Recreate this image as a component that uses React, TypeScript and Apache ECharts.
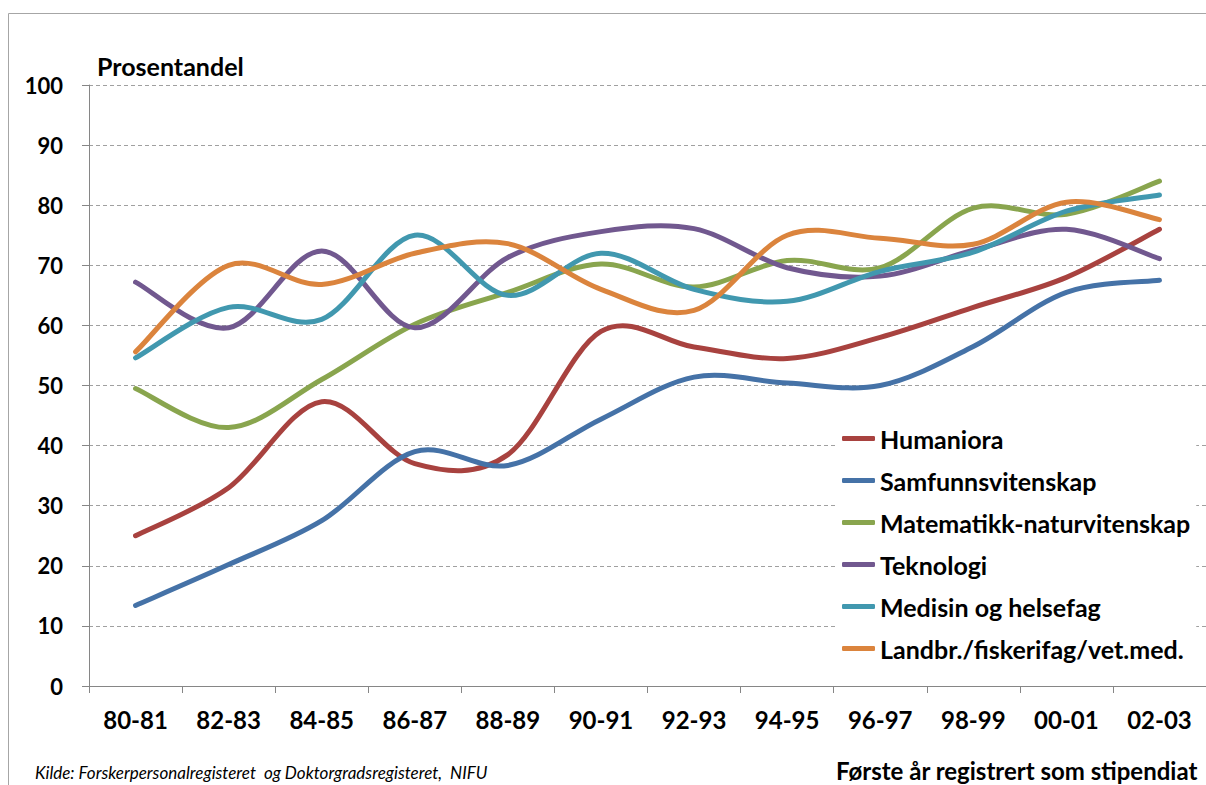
import React, { useEffect, useRef } from "react";
import * as echarts from "echarts";

const categories = ["80-81", "82-83", "84-85", "86-87", "88-89", "90-91", "92-93", "94-95", "96-97", "98-99", "00-01", "02-03"];
const seriesNames = [
  "Humaniora",
  "Samfunnsvitenskap",
  "Matematikk-naturvitenskap",
  "Teknologi",
  "Medisin og helsefag",
  "Landbr./fiskerifag/vet.med.",
];
const humaniora = [25, 33, 47.3, 37, 38.5, 59, 56.4, 54.5, 58, 63, 68, 76];
const samfunnsvitenskap = [13.4, 20.2, 27.5, 39, 36.7, 44.4, 51.4, 50.4, 50, 56.5, 65.5, 67.5];
const matematikk = [49.5, 43, 51, 60.2, 65.5, 70.2, 66.4, 70.8, 69.6, 79.5, 78.5, 84];
const teknologi = [67.2, 59.6, 72.4, 59.6, 71.3, 75.6, 76.1, 69.6, 68.2, 72.5, 76, 71.1];
const medisin = [54.6, 63, 61, 75, 65, 72, 66, 64, 69, 72.2, 79, 81.7];
const landbruk = [55.6, 70, 66.8, 72, 73.6, 66, 62.5, 75, 74.5, 73.5, 80.5, 77.6];
const colors = ["#A8423F", "#4572A7", "#89A54E", "#71588F", "#4198AF", "#DB843D"];
const yAxisTitle = "Prosentandel";
const xAxisTitle = "Første år registrert som stipendiat";
const sourceNote = "Kilde: Forskerpersonalregisteret  og Doktorgradsregisteret,  NIFU";

const FONT = "Lato, 'Open Sans', sans-serif";

// Smoothed curve through the points (uniform Catmull-Rom, as in spreadsheet "smoothed line")
function smoothPath(pts: number[][]): string {
  let d = `M${pts[0][0]},${pts[0][1]}`;
  for (let i = 0; i < pts.length - 1; i++) {
    const p0 = pts[i - 1] || pts[i];
    const p1 = pts[i];
    const p2 = pts[i + 1];
    const p3 = pts[i + 2] || pts[i + 1];
    const c1x = p1[0] + (p2[0] - p0[0]) / 6;
    const c1y = p1[1] + (p2[1] - p0[1]) / 6;
    const c2x = p2[0] - (p3[0] - p1[0]) / 6;
    const c2y = p2[1] - (p3[1] - p1[1]) / 6;
    d += ` C${c1x},${c1y} ${c2x},${c2y} ${p2[0]},${p2[1]}`;
  }
  return d;
}

export default function App() {
  const ref = useRef<HTMLDivElement>(null);
  useEffect(() => {
    if (!ref.current) return;
    const chart = echarts.init(ref.current, null, { renderer: "svg" });
    const data = [humaniora, samfunnsvitenskap, matematikk, teknologi, medisin, landbruk];
    chart.setOption({
      animation: false,
      backgroundColor: "#ffffff",
      grid: { left: 89, top: 85, width: 1120, height: 601, containLabel: false },
      xAxis: {
        type: "category",
        data: categories,
        boundaryGap: true,
        axisLine: { show: true, lineStyle: { color: "#868686", width: 1 } },
        axisTick: { show: true, length: 7, lineStyle: { color: "#868686" } },
        axisLabel: {
          color: "#000",
          fontFamily: FONT,
          fontWeight: "bold",
          fontSize: 24,
          margin: 21,
          interval: 0,
        },
        splitLine: { show: false },
      },
      yAxis: {
        type: "value",
        min: 0,
        max: 100,
        interval: 10,
        axisLine: { show: true, lineStyle: { color: "#868686", width: 1 } },
        axisTick: { show: true, length: 7, lineStyle: { color: "#868686" } },
        axisLabel: {
          color: "#000",
          fontFamily: FONT,
          fontWeight: "bold",
          fontSize: 22,
          margin: 26,
        },
        splitLine: { show: true, lineStyle: { color: "#A0A0A0", type: [4, 3], width: 1 } },
      },
      legend: {
        orient: "vertical",
        left: 835,
        top: 418,
        backgroundColor: "#ffffff",
        padding: [8, 6, 8, 7],
        itemGap: 17,
        itemWidth: 33,
        itemHeight: 5,
        icon: "roundRect",
        data: seriesNames,
        textStyle: {
          color: "#000",
          fontFamily: FONT,
          fontWeight: "bold",
          fontSize: 25,
          lineHeight: 25,
        },
      },
      graphic: [
        {
          type: "rect",
          z: -1,
          shape: { x: 8.5, y: 13.5, width: 1400, height: 1000 },
          style: { fill: "none", stroke: "#A6A6A6", lineWidth: 1 },
          silent: true,
        },
        {
          type: "text",
          x: 97,
          y: 66,
          style: {
            text: yAxisTitle,
            fill: "#000",
            fontFamily: FONT,
            fontWeight: "bold",
            fontSize: 25,
            verticalAlign: "middle",
            align: "left",
          },
        },
        {
          type: "text",
          x: 35,
          y: 772,
          style: {
            text: sourceNote,
            fill: "#000",
            fontFamily: FONT,
            fontStyle: "italic",
            fontSize: 17,
            verticalAlign: "middle",
            align: "left",
          },
        },
        {
          type: "text",
          x: 836,
          y: 770,
          style: {
            text: xAxisTitle,
            fill: "#000",
            fontFamily: FONT,
            fontWeight: "bold",
            fontSize: 24,
            verticalAlign: "middle",
            align: "left",
          },
        },
      ],
      series: seriesNames.map((name, i) => {
        const values = data[i];
        return {
          name,
          type: "custom",
          data: values.map((v, k) => [k, v]),
          encode: { x: 0, y: 1 },
          color: colors[i],
          itemStyle: { color: colors[i] },
          renderItem: (params: any, api: any) => {
            if (params.dataIndex !== 0) return null;
            const pts = values.map((v, k) => api.coord([k, v]));
            return {
              type: "path",
              shape: { pathData: smoothPath(pts) },
              style: {
                fill: "none",
                stroke: colors[i],
                lineWidth: 5,
                lineCap: "round",
                lineJoin: "round",
              },
            };
          },
        };
      }),
    });
    return () => chart.dispose();
  }, []);
  return (
    <div
      ref={ref}
      style={{ position: "absolute", left: 0, top: 0, width: 1206, height: 785, background: "#fff" }}
    />
  );
}
